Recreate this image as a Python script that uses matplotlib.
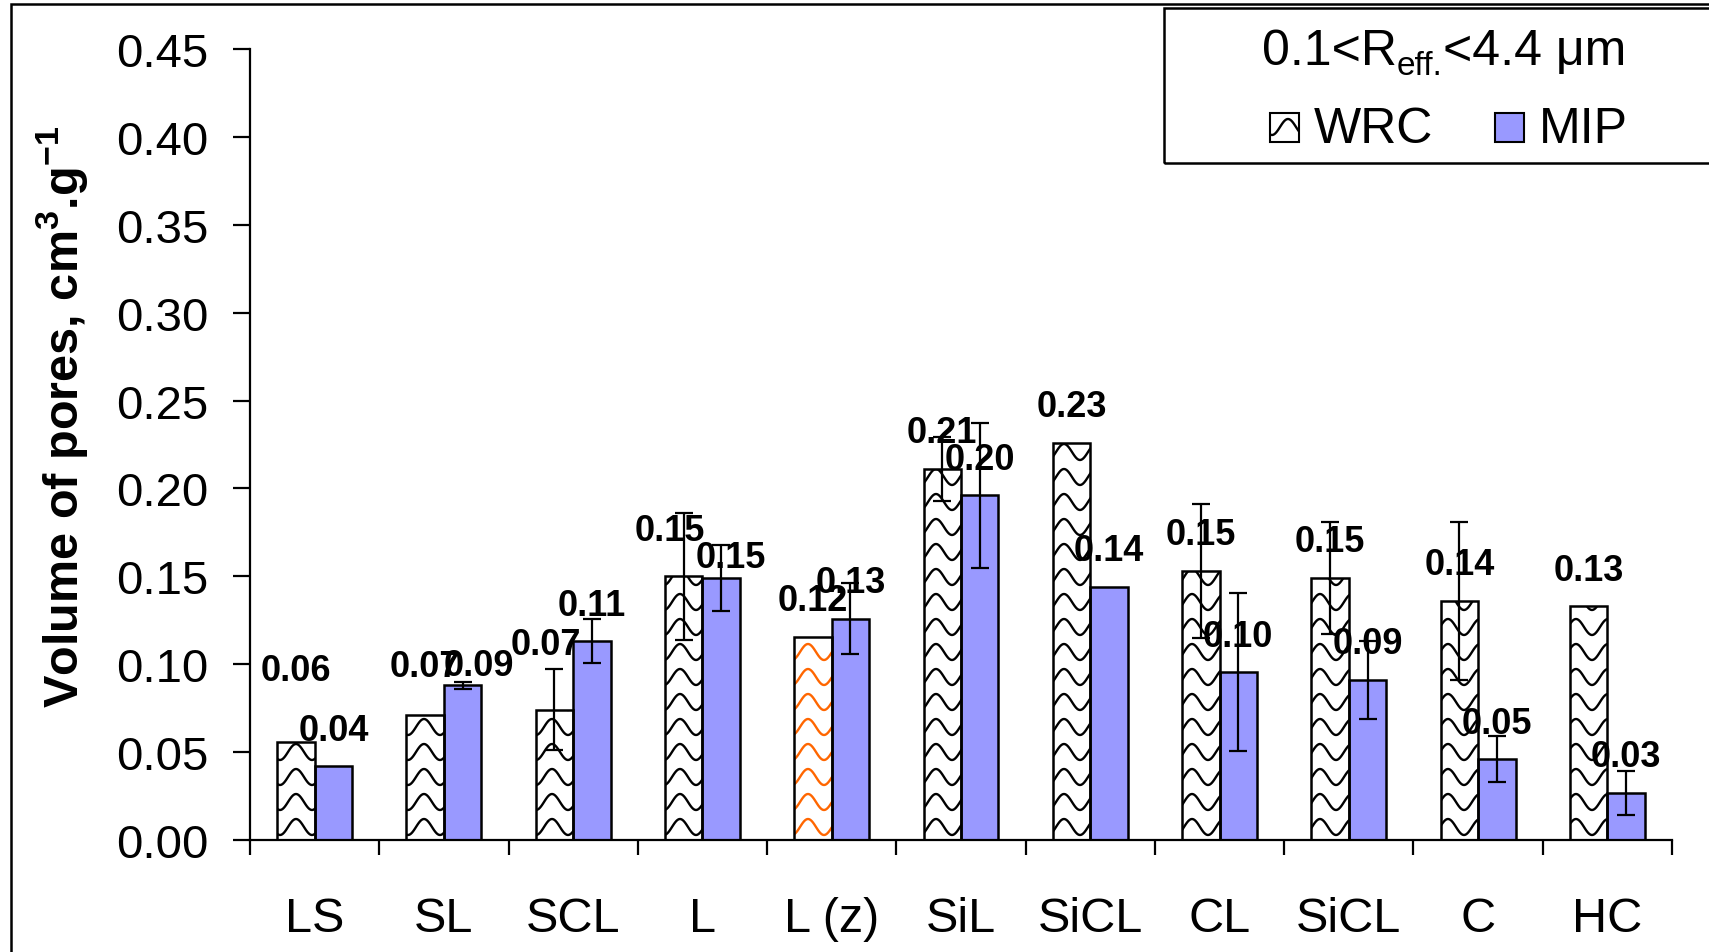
import numpy as np
import matplotlib.pyplot as plt
from matplotlib.patches import Rectangle
from matplotlib.collections import LineCollection
from matplotlib.transforms import IdentityTransform

plt.rcParams['font.family'] = 'Liberation Sans'
plt.rcParams['mathtext.fontset'] = 'custom'
plt.rcParams['mathtext.rm'] = 'Liberation Sans'
plt.rcParams['mathtext.it'] = 'Liberation Sans:italic'
plt.rcParams['mathtext.bf'] = 'Liberation Sans:bold'

# pore volume for 0.1 < R_eff < 4.4 um, by soil texture class
soils = ['LS', 'SL', 'SCL', 'L', 'L (z)', 'SiL', 'SiCL', 'CL', 'SiCL', 'C', 'HC']
wrc = [0.056, 0.071, 0.074, 0.150, 0.1155, 0.211, 0.226, 0.153, 0.149, 0.136, 0.133]
wrc_err = [0, 0, 0.023, 0.036, 0, 0.018, 0, 0.038, 0.032, 0.045, 0]
mip = [0.042, 0.088, 0.113, 0.149, 0.126, 0.196, 0.144, 0.0955, 0.091, 0.046, 0.027]
mip_err = [0, 0.002, 0.0125, 0.019, 0.020, 0.041, 0, 0.045, 0.022, 0.013, 0.0125]

# label nudges (points) where the value labels were moved by hand
wrc_dx = [0, 0, -6, -10, 0, 0, 0, 0, 0, 0, 0]
wrc_dy = [51, 35, 47, 33, 26, 26, 26, 26, 26, 26, 26]
mip_dx = [0, 12, 0, 7, 0, 0, 0, 0, 0, 0, 0]
mip_dy = [26, 14, 26, 15, 26, 26, 26, 26, 26, 26, 26]

W, H = 1709, 953
fig = plt.figure(figsize=(W / 100, H / 100), dpi=100)
ax = fig.add_axes([250 / W, (H - 841) / H, 1422 / W, 791 / H])

x = np.arange(len(soils))
w = 0.29
wrc = np.array(wrc)
mip = np.array(mip)
wrc_err = np.array(wrc_err)
mip_err = np.array(mip_err)

wrc_bars = ax.bar(x - w / 2, wrc, w, facecolor='white', edgecolor='none', zorder=1)
ax.bar(x + w / 2, mip, w, facecolor='#9999FF', edgecolor='black', lw=1.8, zorder=2)
ax.set_xlim(-0.5, len(soils) - 0.5)
ax.set_ylim(0, 0.45)


def wave_segments(x0, y0, x1, y1, lam=32.0, period=25.0, amp=8.0):
    # horizontal wavy lines in display pixels, anchored to the canvas origin
    segs = []
    xs = np.arange(np.floor(x0 / lam) * lam, x1 + lam, 1.0)
    k0 = int(np.floor(y0 / period)) - 1
    k1 = int(np.ceil(y1 / period)) + 1
    for k in range(k0, k1 + 1):
        ys = k * period + amp * np.sin(2 * np.pi * xs / lam)
        segs.append(np.column_stack([xs, ys]))
    return segs


def add_wave(patch, color, host):
    bb = patch.get_window_extent(fig.canvas.get_renderer())
    lc = LineCollection(wave_segments(bb.x0, bb.y0, bb.x1, bb.y1),
                        colors=color, linewidths=1.7,
                        transform=IdentityTransform(), zorder=1.5)
    host.add_artist(lc)
    lc.set_clip_path(patch)


for i, bar in enumerate(wrc_bars):
    add_wave(bar, '#FF6600' if soils[i] == 'L (z)' else 'black', ax)
# outline drawn over the pattern
ax.bar(x - w / 2, wrc, w, fill=False, edgecolor='black', lw=1.8, zorder=2)

ok = wrc_err > 0
ax.errorbar(x[ok] - w / 2, wrc[ok], yerr=wrc_err[ok], fmt='none', ecolor='black',
            elinewidth=1.6, capsize=6.5, capthick=1.6, zorder=3)
ok = mip_err > 0
ax.errorbar(x[ok] + w / 2, mip[ok], yerr=mip_err[ok], fmt='none', ecolor='black',
            elinewidth=1.6, capsize=6.5, capthick=1.6, zorder=3)

for i in range(len(soils)):
    ax.annotate(f'{wrc[i]:.2f}', (x[i] - w / 2, wrc[i]), xytext=(wrc_dx[i], wrc_dy[i]),
                textcoords='offset points', ha='center', va='center',
                fontsize=26, fontweight='bold', zorder=4)
    ax.annotate(f'{mip[i]:.2f}', (x[i] + w / 2, mip[i]), xytext=(mip_dx[i], mip_dy[i]),
                textcoords='offset points', ha='center', va='center',
                fontsize=26, fontweight='bold', zorder=4)

# axes: category boundaries get the tick marks, names sit on minor ticks
ax.set_xticks(np.arange(-0.5, len(soils), 1))
ax.set_xticklabels([])
ax.set_xticks(x, minor=True)
ax.set_xticklabels(soils, minor=True, fontsize=35)
ax.tick_params(axis='x', which='major', length=11, width=1.6, direction='out')
ax.tick_params(axis='x', which='minor', length=0, pad=40)
yt = np.arange(0, 0.451, 0.05)
ax.set_yticks(yt)
ax.set_yticklabels([f'{v:.2f}' for v in yt], fontsize=34)
ax.tick_params(axis='y', length=12, width=1.6, pad=18)
for s in ['top', 'right']:
    ax.spines[s].set_visible(False)
for s in ['left', 'bottom']:
    ax.spines[s].set_linewidth(1.6)

fig.text(62 / W, 1 - 417 / H, r'Volume of pores, cm$^{\mathbf{3}}$.g$^{\mathbf{-1}}$',
         rotation=90, ha='center', va='center', fontsize=35, fontweight='bold')

# outer frame, running off the right and bottom edges
fig.add_artist(Rectangle((11 / W, -0.5), 2, 1.5 - 4.5 / H, fill=False,
                         edgecolor='black', lw=1.8, transform=fig.transFigure))

# legend box
fig.add_artist(Rectangle((1164 / W, 1 - 164 / H), 1, 155 / H, fill=False,
                         edgecolor='black', lw=1.8, transform=fig.transFigure))
t1 = fig.text(1262 / W, 1 - 75 / H, '0.1<R', ha='left', va='bottom', fontsize=36)
t2 = ax.annotate('eff.', xy=(1, 0), xycoords=t1, xytext=(0, -5),
                 textcoords='offset points', ha='left', va='bottom', fontsize=24,
                 annotation_clip=False)
ax.annotate('<4.4 μm', xy=(1, 0), xycoords=(t2, t1), ha='left', va='bottom',
            fontsize=36, annotation_clip=False)
key_wrc = Rectangle((1270 / W, 1 - 143 / H), 29 / W, 29 / H, facecolor='white',
                    edgecolor='black', lw=1.5, transform=fig.transFigure)
fig.add_artist(key_wrc)
add_wave(key_wrc, 'black', fig)
fig.add_artist(Rectangle((1495 / W, 1 - 143 / H), 29 / W, 29 / H, facecolor='#9999FF',
                         edgecolor='black', lw=1.5, transform=fig.transFigure))
fig.text(1314 / W, 1 - 143 / H, 'WRC', ha='left', va='baseline', fontsize=36)
fig.text(1539 / W, 1 - 143 / H, 'MIP', ha='left', va='baseline', fontsize=36)

fig.savefig('out.png', dpi=100)
